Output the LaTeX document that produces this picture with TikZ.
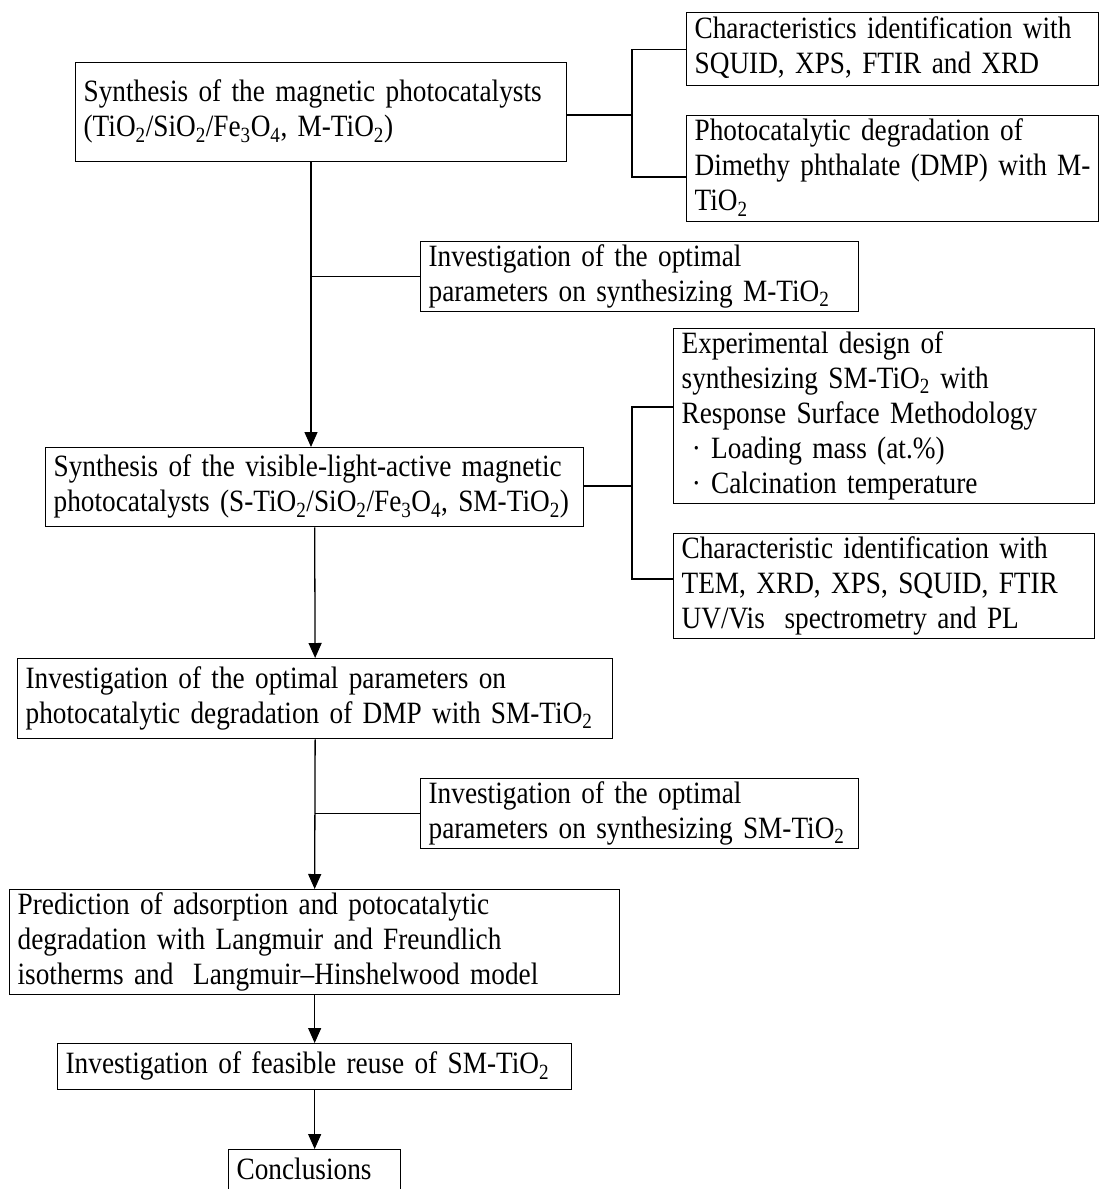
\documentclass[tikz,border=0pt]{standalone}
\usepackage{fontspec}
\setmainfont{Liberation Serif}[FakeStretch=0.88,WordSpace=0.8]
\usetikzlibrary{arrows.meta}
\newcommand{\sbs}[1]{\textsubscript{#1}}
\newcommand{\lns}[1]{\begin{tabular}{@{}l@{}}#1\end{tabular}}
\newcommand{\dotitem}{\makebox[0.95em][c]{·}}
\begin{document}
\begin{tikzpicture}[x=1pt,y=-1pt,
  box/.style={draw, line width=1.3pt, anchor=north west, align=left,
    inner xsep=8pt, inner ysep=0pt, font=\fontsize{31}{35}\selectfont},
  arr/.style={line width=1.3pt, -{Triangle[length=15pt,width=13pt]}},
  ln/.style={line width=1.3pt}]
\useasboundingbox (0,0) rectangle (1099,1189);
\clip (0,0) rectangle (1099,1189);

% main column boxes
\node[box, text width=475pt, minimum height=99pt] (b1) at (75,62)
  {\lns{Synthesis of the magnetic photocatalysts\\(TiO\sbs{2}/SiO\sbs{2}/Fe\sbs{3}O\sbs{4}, M-TiO\sbs{2})}};
\node[box, text width=522pt, minimum height=79pt] (b2) at (45,447)
  {\lns{Synthesis of the visible-light-active magnetic\\photocatalysts (S-TiO\sbs{2}/SiO\sbs{2}/Fe\sbs{3}O\sbs{4}, SM-TiO\sbs{2})}};
\node[box, text width=579pt, minimum height=80pt] (b3) at (17,658)
  {\lns{Investigation of the optimal parameters on\\photocatalytic degradation of DMP with SM-TiO\sbs{2}}};
\node[box, text width=594pt, minimum height=101pt] (b4) at (9,889)
  {\lns{Prediction of adsorption and potocatalytic\\degradation with Langmuir and Freundlich\\isotherms and\hspace{0.3em} Langmuir–Hinshelwood model}};
\node[box, text width=498pt, minimum height=46pt] (b5) at (57,1043)
  {\lns{Investigation of feasible reuse of SM-TiO\sbs{2}}};
\node[box, text width=156pt, minimum height=46pt] (b6) at (228,1149)
  {\lns{Conclusions}};

% side boxes
\node[box, text width=396pt, minimum height=73pt] (bA) at (686,12)
  {\lns{Characteristics identification with\\SQUID, XPS, FTIR and XRD}};
\node[box, text width=396pt, minimum height=106pt] (bB) at (686,115)
  {\lns{Photocatalytic degradation of\\Dimethy phthalate (DMP) with M-\\TiO\sbs{2}}};
\node[box, text width=422pt, minimum height=66pt] (bC) at (420,241)
  {\lns{Investigation of the optimal\\parameters on synthesizing M-TiO\sbs{2}}};
\node[box, text width=405pt, minimum height=171pt] (bE) at (673,328)
  {\lns{Experimental design of\\synthesizing SM-TiO\sbs{2} with\\Response Surface Methodology\\\dotitem Loading mass (at.\%)\\\dotitem Calcination temperature}};
\node[box, text width=405pt, minimum height=99pt] (bF) at (673,533)
  {\lns{Characteristic identification with\\TEM, XRD, XPS, SQUID, FTIR\\UV/Vis\hspace{0.3em} spectrometry and PL}};
\node[box, text width=422pt, minimum height=66pt] (bD) at (420,778)
  {\lns{Investigation of the optimal\\parameters on synthesizing SM-TiO\sbs{2}}};

% junction coordinates
\coordinate (col1) at (311,0);
\coordinate (j1) at (632,115);
\coordinate (j1b) at (632,177);
\coordinate (j2) at (632,486);
\coordinate (j2a) at (632,407);
\coordinate (j2b) at (632,579);

% main flow
\draw[arr] (b1.south -| col1) -- (b2.north -| col1);
\draw[ln] (col1 |- bC.west) -- (bC.west);
\draw[arr] (b2.south) -- (b3.north);
\draw[arr] (b3.south) -- (b4.north);
\draw[ln] (b3.south |- bD.west) -- (bD.west);
\draw[arr] (b4.south) -- (b5.north);
\draw[arr] (b5.south) -- (b6.north);

% bracket 1
\draw[ln] (b1.east |- j1) -- (j1);
\draw[ln] (bA.west) -| (j1b) -- (bB.west |- j1b);

% bracket 2
\draw[ln] (b2.east |- j2) -- (j2);
\draw[ln] (bE.west |- j2a) -| (j2b) -- (bF.west |- j2b);
\end{tikzpicture}
\end{document}
